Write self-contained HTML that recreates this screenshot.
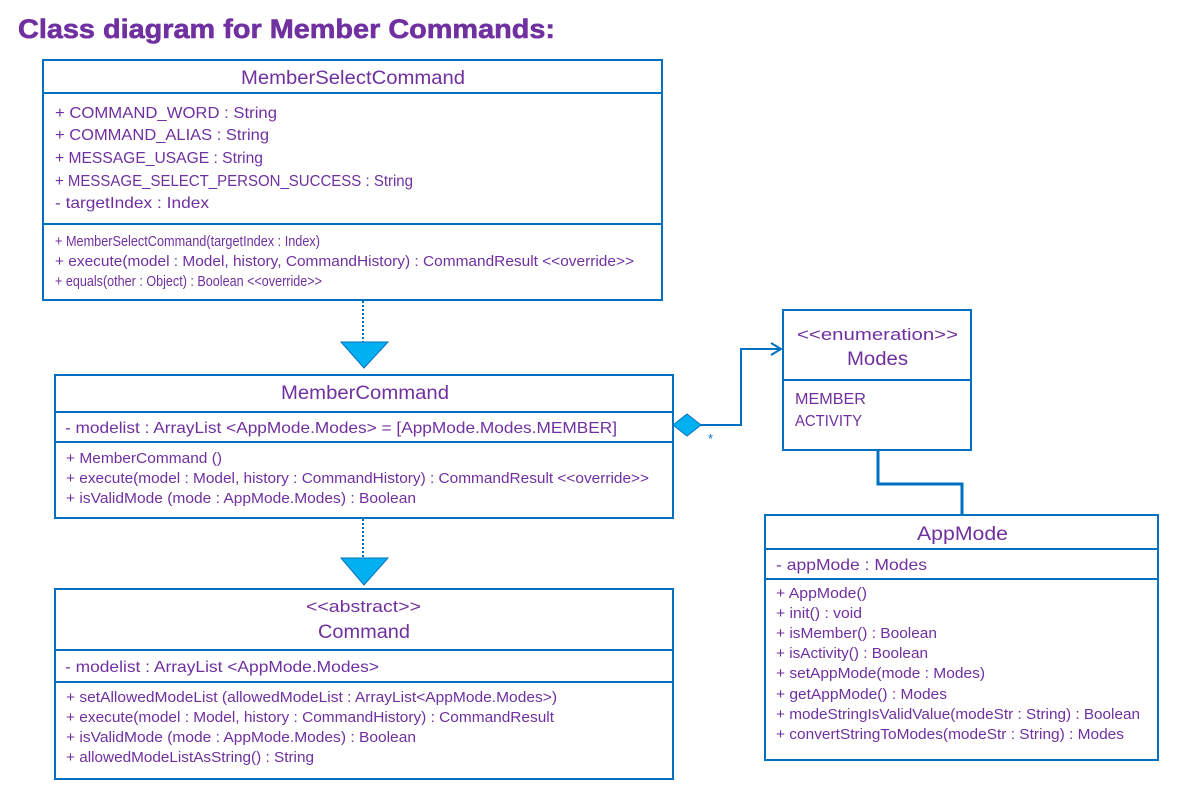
<!DOCTYPE html>
<html><head><meta charset="utf-8"><style>
html,body{margin:0;padding:0;background:#fff}
svg{display:block}
text{font-family:"Liberation Sans",sans-serif;fill:#7030A0}
</style></head><body>
<svg width="1191" height="803" viewBox="0 0 1191 803" xmlns="http://www.w3.org/2000/svg">
<text x="18" y="38" font-size="27" font-weight="bold" textLength="537" lengthAdjust="spacingAndGlyphs" stroke="#7030A0" stroke-width="0.6">Class diagram for Member Commands:</text>

<g fill="#fff" stroke="#0070C0" stroke-width="2">
<rect x="43" y="60" width="619" height="240"/>
<line x1="43" y1="93" x2="662" y2="93"/>
<line x1="43" y1="224" x2="662" y2="224"/>
<rect x="55" y="375" width="618" height="143"/>
<line x1="55" y1="412" x2="673" y2="412"/>
<line x1="55" y1="442" x2="673" y2="442"/>
<rect x="55" y="589" width="618" height="190"/>
<line x1="55" y1="650" x2="673" y2="650"/>
<line x1="55" y1="682" x2="673" y2="682"/>
<rect x="783" y="310" width="188" height="140"/>
<line x1="783" y1="380" x2="971" y2="380"/>
<rect x="765" y="515" width="393" height="245"/>
<line x1="765" y1="549" x2="1158" y2="549"/>
<line x1="765" y1="579" x2="1158" y2="579"/>
</g>

<g stroke="#0070C0" stroke-width="2" fill="none">
<line x1="363" y1="301" x2="363" y2="342" stroke-dasharray="2,2"/>
<line x1="363" y1="519" x2="363" y2="558" stroke-dasharray="2,2"/>
<polyline points="700,425 741,425 741,349 781,349"/>
<polyline points="771,343 781,349 771,355"/>
<polyline points="878,451 878,484 962,484 962,515" stroke-width="3"/>
</g>
<polygon points="341,342 388,342 364,368" fill="#00B0F0" stroke="#0070C0" stroke-width="1"/>
<polygon points="341,558 388,558 364,585" fill="#00B0F0" stroke="#0070C0" stroke-width="1"/>
<polygon points="673,425 687,414 701,425 687,436" fill="#00B0F0" stroke="#0070C0" stroke-width="1"/>
<text x="708" y="443" font-size="13" style="fill:#0070C0">*</text>

<g font-size="16">
<text x="241" y="84" font-size="19" textLength="224" lengthAdjust="spacingAndGlyphs">MemberSelectCommand</text>
<text x="55" y="118" textLength="222" lengthAdjust="spacingAndGlyphs">+ COMMAND_WORD : String</text>
<text x="55" y="140" textLength="214" lengthAdjust="spacingAndGlyphs">+ COMMAND_ALIAS : String</text>
<text x="55" y="163" textLength="208" lengthAdjust="spacingAndGlyphs">+ MESSAGE_USAGE : String</text>
<text x="55" y="186" textLength="358" lengthAdjust="spacingAndGlyphs">+ MESSAGE_SELECT_PERSON_SUCCESS : String</text>
<text x="55" y="208" textLength="154" lengthAdjust="spacingAndGlyphs">- targetIndex : Index</text>
</g>
<g font-size="14.5">
<text x="55" y="246" textLength="265" lengthAdjust="spacingAndGlyphs">+ MemberSelectCommand(targetIndex : Index)</text>
<text x="55" y="266" textLength="579" lengthAdjust="spacingAndGlyphs">+ execute(model : Model, history, CommandHistory) : CommandResult &lt;&lt;override&gt;&gt;</text>
<text x="55" y="286" textLength="267" lengthAdjust="spacingAndGlyphs">+ equals(other : Object) : Boolean &lt;&lt;override&gt;&gt;</text>

<text x="281" y="399" font-size="19" textLength="168" lengthAdjust="spacingAndGlyphs">MemberCommand</text>
<text x="65" y="433" font-size="16" textLength="552" lengthAdjust="spacingAndGlyphs">- modelist : ArrayList &lt;AppMode.Modes&gt; = [AppMode.Modes.MEMBER]</text>
<text x="66" y="463" textLength="156" lengthAdjust="spacingAndGlyphs">+ MemberCommand ()</text>
<text x="66" y="483" textLength="583" lengthAdjust="spacingAndGlyphs">+ execute(model : Model, history : CommandHistory) : CommandResult &lt;&lt;override&gt;&gt;</text>
<text x="66" y="503" textLength="350" lengthAdjust="spacingAndGlyphs">+ isValidMode (mode : AppMode.Modes) : Boolean</text>

<text x="306" y="612" font-size="17" textLength="115" lengthAdjust="spacingAndGlyphs">&lt;&lt;abstract&gt;&gt;</text>
<text x="318" y="638" font-size="19" textLength="92" lengthAdjust="spacingAndGlyphs">Command</text>
<text x="65" y="672" font-size="16" textLength="314" lengthAdjust="spacingAndGlyphs">- modelist : ArrayList &lt;AppMode.Modes&gt;</text>
<text x="66" y="702" textLength="491" lengthAdjust="spacingAndGlyphs">+ setAllowedModeList (allowedModeList : ArrayList&lt;AppMode.Modes&gt;)</text>
<text x="66" y="722" textLength="488" lengthAdjust="spacingAndGlyphs">+ execute(model : Model, history : CommandHistory) : CommandResult</text>
<text x="66" y="742" textLength="350" lengthAdjust="spacingAndGlyphs">+ isValidMode (mode : AppMode.Modes) : Boolean</text>
<text x="66" y="762" textLength="248" lengthAdjust="spacingAndGlyphs">+ allowedModeListAsString() : String</text>

<text x="797" y="340" font-size="17" textLength="161" lengthAdjust="spacingAndGlyphs">&lt;&lt;enumeration&gt;&gt;</text>
<text x="847" y="365" font-size="19" textLength="61" lengthAdjust="spacingAndGlyphs">Modes</text>
<text x="795" y="404" font-size="16" textLength="71" lengthAdjust="spacingAndGlyphs">MEMBER</text>
<text x="795" y="426" font-size="16" textLength="67" lengthAdjust="spacingAndGlyphs">ACTIVITY</text>

<text x="917" y="540" font-size="19" textLength="91" lengthAdjust="spacingAndGlyphs">AppMode</text>
<text x="776" y="570" font-size="16" textLength="151" lengthAdjust="spacingAndGlyphs">- appMode : Modes</text>
<text x="776" y="598" textLength="91" lengthAdjust="spacingAndGlyphs">+ AppMode()</text>
<text x="776" y="618" textLength="86" lengthAdjust="spacingAndGlyphs">+ init() : void</text>
<text x="776" y="638" textLength="161" lengthAdjust="spacingAndGlyphs">+ isMember() : Boolean</text>
<text x="776" y="658" textLength="152" lengthAdjust="spacingAndGlyphs">+ isActivity() : Boolean</text>
<text x="776" y="678" textLength="209" lengthAdjust="spacingAndGlyphs">+ setAppMode(mode : Modes)</text>
<text x="776" y="699" textLength="171" lengthAdjust="spacingAndGlyphs">+ getAppMode() : Modes</text>
<text x="776" y="719" textLength="364" lengthAdjust="spacingAndGlyphs">+ modeStringIsValidValue(modeStr : String) : Boolean</text>
<text x="776" y="739" textLength="348" lengthAdjust="spacingAndGlyphs">+ convertStringToModes(modeStr : String) : Modes</text>
</g>
</svg>
</body></html>
